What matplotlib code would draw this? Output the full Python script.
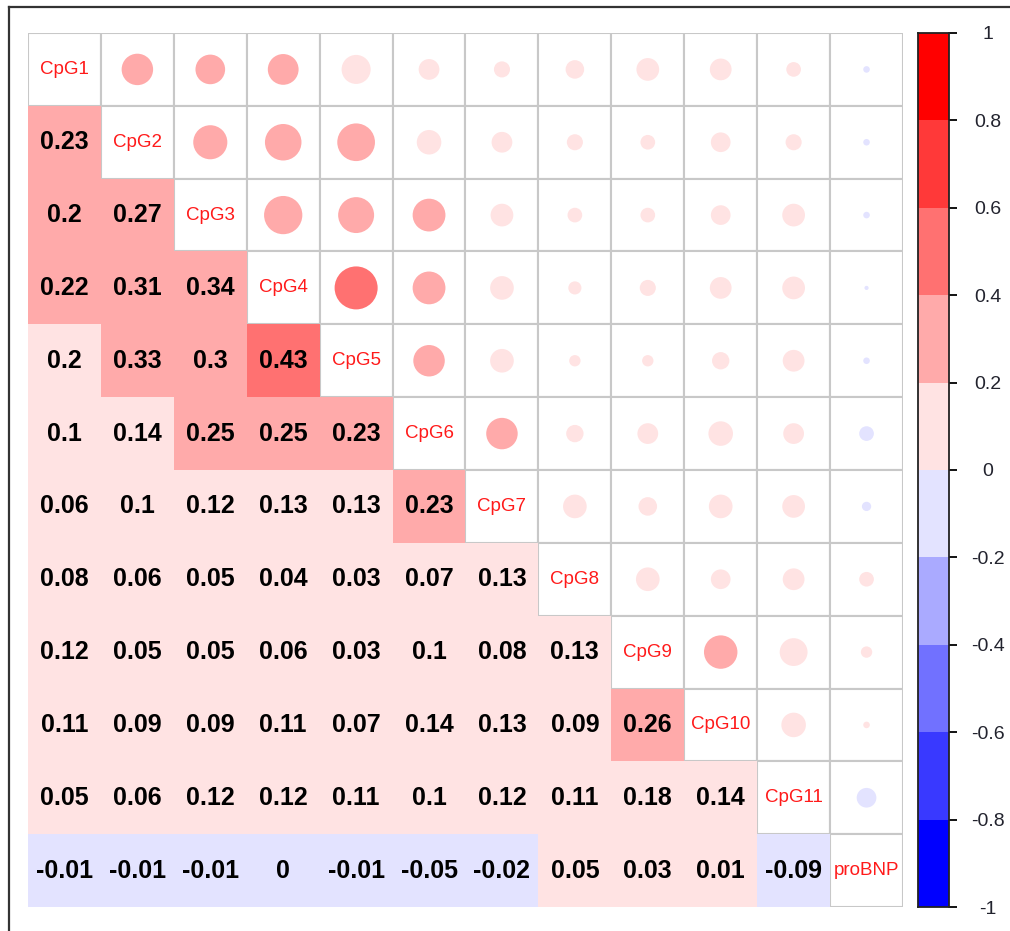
import matplotlib.pyplot as plt
from matplotlib.patches import Rectangle, Circle
from matplotlib.lines import Line2D
import numpy as np

plt.rcParams['font.family'] = ['Liberation Sans', 'DejaVu Sans']

labels = ["CpG1", "CpG2", "CpG3", "CpG4", "CpG5", "CpG6",
          "CpG7", "CpG8", "CpG9", "CpG10", "CpG11", "proBNP"]

# lower triangle of the correlation matrix, row by row
lower_rows = [
    [],
    [0.23],
    [0.204, 0.27],
    [0.22, 0.31, 0.34],
    [0.196, 0.33, 0.30, 0.43],
    [0.10, 0.14, 0.25, 0.25, 0.23],
    [0.06, 0.10, 0.12, 0.13, 0.13, 0.23],
    [0.08, 0.06, 0.05, 0.04, 0.03, 0.07, 0.13],
    [0.12, 0.05, 0.05, 0.06, 0.03, 0.10, 0.08, 0.13],
    [0.11, 0.09, 0.09, 0.11, 0.07, 0.14, 0.13, 0.09, 0.26],
    [0.05, 0.06, 0.12, 0.12, 0.11, 0.10, 0.12, 0.11, 0.18, 0.14],
    [-0.01, -0.01, -0.01, -0.004, -0.01, -0.05, -0.02, 0.05, 0.03, 0.01, -0.09],
]

cbar_ticks = [-1, -0.8, -0.6, -0.4, -0.2, 0, 0.2, 0.4, 0.6, 0.8, 1]
cbar_ticklabels = ["-1", "-0.8", "-0.6", "-0.4", "-0.2", "0",
                   "0.2", "0.4", "0.6", "0.8", "1"]

n = len(labels)
corr = np.eye(n)
for i, row in enumerate(lower_rows):
    for j, v in enumerate(row):
        corr[i, j] = v
        corr[j, i] = v

# blue -> white -> red in 10 steps
palette = ["#0000FF", "#3939FF", "#7171FF", "#AAAAFF", "#E3E3FF",
           "#FFE3E3", "#FFAAAA", "#FF7171", "#FF3939", "#FF0000"]


def col_for(r):
    k = int(np.floor((r + 1) / 0.2))
    return palette[min(max(k, 0), 9)]


def fmt(r):
    s = f"{r:.2f}".rstrip("0").rstrip(".")
    if s in ("-0", ""):
        s = "0"
    return s


W, H = 1010, 931
fig = plt.figure(figsize=(W / 100, H / 100), dpi=100)

ax = fig.add_axes([28 / W, 1 - 907 / H, 875 / W, 874 / H])
ax.set_xlim(0, n)
ax.set_ylim(n, 0)
ax.axis("off")

grid_col = "#C8C8C8"
for i in range(n):
    for j in range(n):
        r = corr[i, j]
        if j < i:
            # coloured squares sit on top of the grid
            ax.add_patch(Rectangle((j, i), 1, 1, facecolor=col_for(r),
                                   edgecolor="none", zorder=3))
            ax.text(j + 0.5, i + 0.5, fmt(r), ha="center", va="center",
                    fontsize=18, fontweight="bold", color="black", zorder=5)
        else:
            ax.add_patch(Rectangle((j, i), 1, 1, facecolor="white",
                                   edgecolor=grid_col, lw=1.5, zorder=1))
            if i == j:
                ax.text(j + 0.5, i + 0.5, labels[i], ha="center", va="center",
                        fontsize=13.5, color="#FF1A1A", zorder=5)
            else:
                rad = 0.45 * np.sqrt(abs(r))
                ax.add_patch(Circle((j + 0.5, i + 0.5), rad,
                                    facecolor=col_for(r), edgecolor="none",
                                    zorder=2))

# colour legend
cax = fig.add_axes([918 / W, 1 - 907 / H, 31 / W, 874 / H])
cax.set_xlim(0, 1)
cax.set_ylim(-1, 1)
for k in range(10):
    cax.add_patch(Rectangle((0, -1 + 0.2 * k), 1, 0.2,
                            facecolor=palette[k], edgecolor="none"))
cax.set_xticks([])
cax.yaxis.tick_right()
cax.set_yticks(cbar_ticks)
cax.set_yticklabels(cbar_ticklabels, fontsize=14, color="#22232E")
cax.tick_params(axis="y", length=6, width=1.3, color="black", pad=22)
for lab in cax.get_yticklabels():
    lab.set_horizontalalignment("center")
for sp in cax.spines.values():
    sp.set_color("#222222")
    sp.set_linewidth(1.3)

# outer frame
fig.add_artist(Line2D([9 / W, 9 / W], [0, 1 - 7 / H], color="#333333",
                      lw=1.6, transform=fig.transFigure))
fig.add_artist(Line2D([9 / W, 1], [1 - 7 / H, 1 - 7 / H], color="#333333",
                      lw=1.6, transform=fig.transFigure))

fig.savefig("out.png", dpi=100)
